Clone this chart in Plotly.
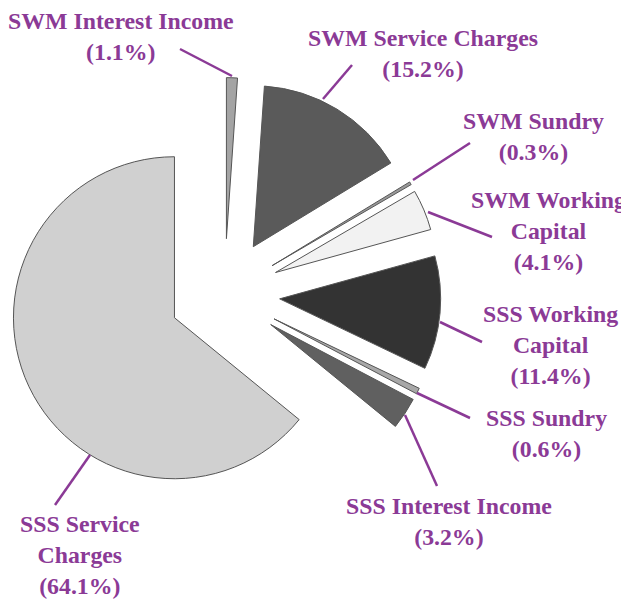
import plotly.graph_objects as go

# ---- data ----
labels = ["SWM Interest Income", "SWM Service Charges", "SWM Sundry",
          "SWM Working Capital", "SSS Working Capital", "SSS Sundry",
          "SSS Interest Income", "SSS Service Charges"]
values = [1.1, 15.2, 0.3, 4.1, 11.4, 0.6, 3.2, 64.1]
label_text = ["SWM Interest Income<br>(1.1%)",
              "SWM Service Charges<br>(15.2%)",
              "SWM Sundry<br>(0.3%)",
              "SWM Working<br>Capital<br>(4.1%)",
              "SSS Working<br>Capital<br>(11.4%)",
              "SSS Sundry<br>(0.6%)",
              "SSS Interest Income<br>(3.2%)",
              "SSS Service<br>Charges<br>(64.1%)"]

# ---- styles / layout ----
PAGE_OFF = 8              # default body margin of the html page
W, H = 629 - PAGE_OFF, 599 - PAGE_OFF
slice_colors = ["#a4a4a4", "#5a5a5a", "#9a9a9a", "#f2f2f2",
                "#333333", "#a8a8a8", "#606060", "#d0d0d0"]
purple = "#8B3A96"
pulls = [0.344] * len(values)

# label centres (window pixels) and leader lines (text end -> slice end)
label_pos = [(121, 37), (423, 53), (533, 136), (548, 231),
             (550, 345), (546, 433), (449, 521), (80, 555)]
leaders = [((180, 49), (232, 76)),
           ((352, 65), (323, 99)),
           ((470, 143), (413, 180)),
           ((492, 237), (428, 212)),
           ((482, 342), (440, 322)),
           ((470, 418), (417, 393)),
           ((437, 486), (405, 415)),
           ((55, 505), (90, 455))]

def px(x):
    return (x - PAGE_OFF) / W

def py(y):
    return 1 - (y - PAGE_OFF) / H

def clip01(v):
    return min(1.0, max(0.0, v))

# pie: centre (224.5, 294), radius 161
cx, cy, R = 224.5, 294.0, 161.0
half = R * (1 + max(pulls))

fig = go.Figure(go.Pie(
    labels=labels, values=values, sort=False, direction="clockwise",
    rotation=0, pull=pulls, textinfo="none", hoverinfo="label+percent",
    marker=dict(colors=slice_colors, line=dict(color="#555555", width=1)),
    domain=dict(x=[clip01(px(cx - half)), clip01(px(cx + half))],
                y=[clip01(py(cy + half)), clip01(py(cy - half))]),
))

shapes = []
for (x0, y0), (x1, y1) in leaders:
    shapes.append(dict(type="line", xref="paper", yref="paper",
                       x0=px(x0), y0=py(y0), x1=px(x1), y1=py(y1),
                       line=dict(color=purple, width=2.5)))

annotations = []
for t, (x, y) in zip(label_text, label_pos):
    annotations.append(dict(text=t, xref="paper", yref="paper",
                            x=px(x), y=py(y), xanchor="center", yanchor="middle",
                            showarrow=False, align="center",
                            font=dict(family="Liberation Serif", size=23.8,
                                      color=purple, weight="bold")))

fig.update_layout(width=W, height=H, margin=dict(l=0, r=0, t=0, b=0),
                  paper_bgcolor="white", plot_bgcolor="white",
                  showlegend=False, shapes=shapes, annotations=annotations)

fig.write_html("out.html")
